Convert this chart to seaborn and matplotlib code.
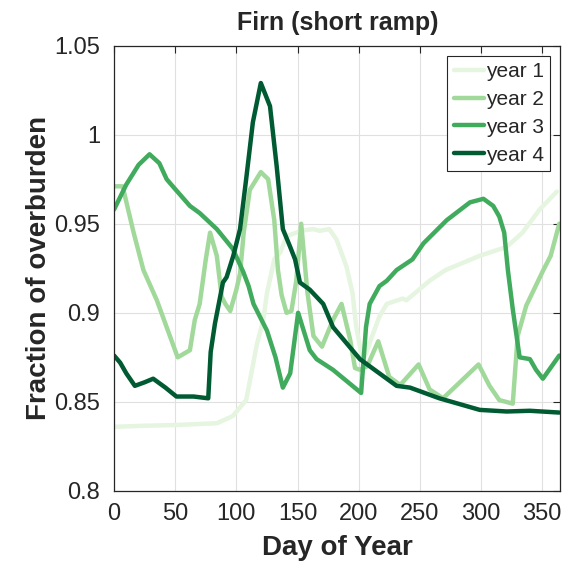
import numpy as np
import pandas as pd
import matplotlib
matplotlib.use("Agg")
import matplotlib.pyplot as plt
import seaborn as sns

# ---- data ----
day_y1 = [0, 20, 50, 84, 97, 108, 117, 122, 125, 131, 136, 141, 149, 152, 163, 168, 176, 182, 190, 195, 198, 203, 206, 210, 217, 223, 236, 239, 258, 271, 285, 299, 321, 334, 348, 362]
val_y1 = [0.836, 0.8365, 0.837, 0.838, 0.842, 0.851, 0.883, 0.896, 0.911, 0.930, 0.934, 0.943, 0.945, 0.946, 0.947, 0.946, 0.947, 0.941, 0.926, 0.911, 0.892, 0.874, 0.877, 0.885, 0.898, 0.905, 0.908, 0.907, 0.918, 0.924, 0.928, 0.932, 0.937, 0.945, 0.958, 0.968]

day_y2 = [0, 7, 16, 24, 35, 52, 62, 66, 70, 75, 78.5, 84, 88, 91, 95, 100, 103, 106, 111, 120, 126, 131, 134, 137, 141, 145, 149, 153, 158, 163, 170, 179, 186, 193, 197, 201, 207, 216, 225, 234, 249, 258, 269, 298, 307, 315, 326, 330, 337, 351, 357, 364]
val_y2 = [0.971, 0.971, 0.945, 0.924, 0.907, 0.875, 0.879, 0.896, 0.905, 0.930, 0.945, 0.932, 0.909, 0.905, 0.901, 0.913, 0.922, 0.945, 0.969, 0.979, 0.975, 0.952, 0.924, 0.910, 0.900, 0.901, 0.918, 0.950, 0.912, 0.887, 0.881, 0.896, 0.905, 0.885, 0.869, 0.868, 0.870, 0.884, 0.864, 0.8595, 0.871, 0.857, 0.852, 0.871, 0.859, 0.851, 0.849, 0.887, 0.904, 0.924, 0.932, 0.950]

day_y3 = [0, 10, 20, 29, 37, 43, 48, 62, 70, 84, 97, 105.6, 110, 114, 125, 132, 138, 144, 150.5, 160, 165.6, 179, 202, 206, 209, 217, 223, 231, 244, 253, 272, 291, 302, 310, 315, 319, 322, 326, 331.6, 340, 345, 350.6, 364]
val_y3 = [0.958, 0.972, 0.983, 0.989, 0.984, 0.975, 0.971, 0.960, 0.956, 0.947, 0.936, 0.923, 0.915, 0.905, 0.890, 0.875, 0.858, 0.866, 0.900, 0.879, 0.874, 0.868, 0.855, 0.892, 0.905, 0.915, 0.918, 0.924, 0.930, 0.939, 0.952, 0.962, 0.964, 0.960, 0.954, 0.945, 0.924, 0.902, 0.875, 0.874, 0.868, 0.863, 0.876]

day_y4 = [0, 5, 10, 17, 25, 32, 42, 51, 65, 77, 79, 82.5, 89, 92, 97.5, 103, 108, 113.5, 120, 127.5, 133, 138, 144, 148, 152, 160, 171, 179, 190, 201, 217, 231, 242, 266, 299, 321, 340, 364]
val_y4 = [0.876, 0.872, 0.866, 0.859, 0.861, 0.863, 0.858, 0.853, 0.853, 0.852, 0.878, 0.894, 0.917, 0.920, 0.932, 0.947, 0.975, 1.007, 1.029, 1.016, 0.982, 0.947, 0.937, 0.930, 0.917, 0.913, 0.905, 0.892, 0.883, 0.874, 0.866, 0.859, 0.858, 0.852, 0.8455, 0.8446, 0.845, 0.844]

series_names = ["year 1", "year 2", "year 3", "year 4"]
colors = ["#e5f5e0", "#a1d99b", "#41ab5d", "#005a32"]
x_ticks = [0, 50, 100, 150, 200, 250, 300, 350]
y_ticks = [0.8, 0.85, 0.9, 0.95, 1.0, 1.05]
y_tick_labels = ["0.8", "0.85", "0.9", "0.95", "1", "1.05"]

frames = []
for name, d, v in zip(series_names, [day_y1, day_y2, day_y3, day_y4], [val_y1, val_y2, val_y3, val_y4]):
    frames.append(pd.DataFrame({"day": d, "frac": v, "year": name}))
df = pd.concat(frames, ignore_index=True)

sns.set_style("white")
plt.rcParams["font.family"] = ["Liberation Sans", "DejaVu Sans"]

fig = plt.figure(figsize=(5.79, 5.63), dpi=100)
ax = fig.add_axes([0.197, 0.128, 0.771, 0.791])

sns.lineplot(data=df, x="day", y="frac", hue="year", palette=colors,
             hue_order=series_names, estimator=None, sort=False,
             linewidth=3.2, ax=ax)
for ln in ax.get_lines():
    ln.set_solid_joinstyle("round")
    ln.set_solid_capstyle("round")

ax.set_xlim(0, 365)
ax.set_ylim(0.8, 1.05)
ax.set_xticks(x_ticks)
ax.set_yticks(y_ticks)
ax.set_yticklabels(y_tick_labels)
ax.grid(True, color="#e0e0e0", linewidth=0.8)
ax.set_axisbelow(True)
ax.tick_params(direction="in", length=5, width=0.8, top=True, right=True,
               labelsize=17, colors="#262626")
ax.tick_params(axis="y", pad=10)
ax.tick_params(axis="x", pad=9)
for s in ax.spines.values():
    s.set_color("#262626")
    s.set_linewidth(0.9)

ax.set_xlabel("Day of Year", fontsize=20, fontweight="bold", labelpad=7)
ax.set_ylabel("Fraction of overburden", fontsize=20, fontweight="bold", labelpad=2)
ax.set_title("Firn (short ramp)", fontsize=18, fontweight="bold", pad=11)

leg = ax.legend(loc="upper right", fontsize=15, handlelength=1.45, handletextpad=0.1,
                borderpad=0.3, labelspacing=0.42, borderaxespad=0.5,
                fancybox=False, framealpha=1, edgecolor="#262626")
leg.get_frame().set_linewidth(0.8)
for line in leg.get_lines():
    line.set_linewidth(3.2)

fig.savefig("out.png", dpi=100)
